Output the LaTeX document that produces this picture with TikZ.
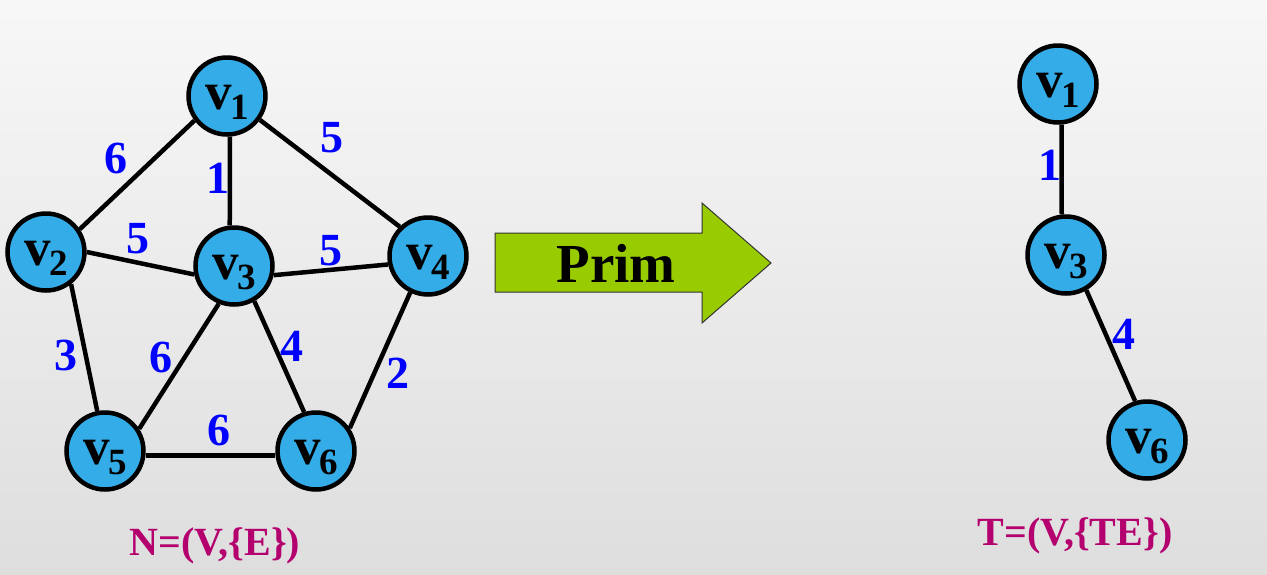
\documentclass[tikz,border=0pt]{standalone}
\usepackage{fontspec}
\setmainfont{Liberation Serif}
\usetikzlibrary{positioning}
\definecolor{vertexcol}{HTML}{33ACE8}
\definecolor{namecol}{HTML}{B4006E}
\definecolor{arrowcol}{HTML}{99CC00}
\newcommand{\vtx}[1]{v\kern-1pt\lower10pt\hbox{\fontsize{37}{37}\selectfont #1}}

\begin{document}
\begin{tikzpicture}[x=1pt, y=-1pt,
    vertex/.style={circle, draw, line width=4.5pt, fill=vertexcol, minimum size=77pt,
      inner sep=0pt, text height=32pt, text depth=6pt,
      font=\fontsize{53}{53}\selectfont\bfseries},
    wt/.style={text=blue, inner sep=0pt, font=\fontsize{46}{46}\selectfont\bfseries},
    edge/.style={line width=4.5pt},
    setname/.style={text=namecol, anchor=base, inner sep=0pt,
      font=\fontsize{40}{40}\selectfont\bfseries}]
  % background
  \shade[top color=black!3, bottom color=black!13] (0,0) rectangle (1267,574);
  \useasboundingbox (0,0) rectangle (1267,574);

  % network N
  \node[vertex] (v1) at (227,96)  {\vtx{1}};
  \node[vertex] (v2) at (46,252)  {\vtx{2}};
  \node[vertex] (v3) at (234,266) {\vtx{3}};
  \node[vertex] (v4) at (428,256) {\vtx{4}};
  \node[vertex] (v5) at (105,451) {\vtx{5}};
  \node[vertex] (v6) at (316,451) {\vtx{6}};
  \draw[edge] (v1.217) -- node[wt, xshift=-21pt, yshift=16pt] (w12) {6} (v2.34);
  \draw[edge] (v1.-86) -- node[wt, xshift=-12pt, yshift=3pt] (w13) {1} (v3.96);
  \draw[edge] (v1.-36) -- node[wt, xshift=2pt, yshift=36pt] (w14) {5} (v4.134);
  \draw[edge] (v2.0) -- node[wt, xshift=-2pt, yshift=25pt] (w23) {5} (v3.192);
  \draw[edge] (v3.-13) -- node[wt, yshift=19pt] (w34) {5} (v4.192);
  \draw[edge] (v2.-52) -- node[wt, xshift=-18pt, yshift=-8pt] (w25) {3} (v5.101);
  \draw[edge] (v3.248) -- node[wt, xshift=-18pt, yshift=9pt] (w35) {6} (v5.33);
  \draw[edge] (v3.-60) -- node[wt, xshift=13pt, yshift=10pt] (w36) {4} (v6.107);
  \draw[edge] (v4.244) -- node[wt, xshift=18pt, yshift=-13pt] (w46) {2} (v6.34);
  \draw[edge] (v5.-6) -- node[wt, xshift=8pt, yshift=25pt] (w56) {6} (v6.186);
  \node[setname] (nname) at (215,555) {N=(V,\{E\})};

  % arrow
  \draw[fill=arrowcol, draw=black!80, line width=1pt]
    (495,233) -- (702,233) -- (702,203) -- (771,263) -- (702,323) -- (702,292) -- (495,292) -- cycle;
  \node[anchor=base, inner sep=0pt, font=\fontsize{55}{55}\selectfont\bfseries] (prim) at (616,282) {Prim};

  % tree T
  \node[vertex] (t1) at (1058,84)  {\vtx{1}};
  \node[vertex] (t3) at (1066,255) {\vtx{3}};
  \node[vertex] (t6) at (1147,440) {\vtx{6}};
  \draw[edge] (t1.-85) -- node[wt, xshift=-12pt, yshift=4pt] (u13) {1} (t3.96);
  \draw[edge] (t3.-60) -- node[wt, xshift=13pt, yshift=11pt] (u36) {4} (t6.107);
  \node[setname] (tname) at (1075,545) {T=(V,\{TE\})};
\end{tikzpicture}
\end{document}
